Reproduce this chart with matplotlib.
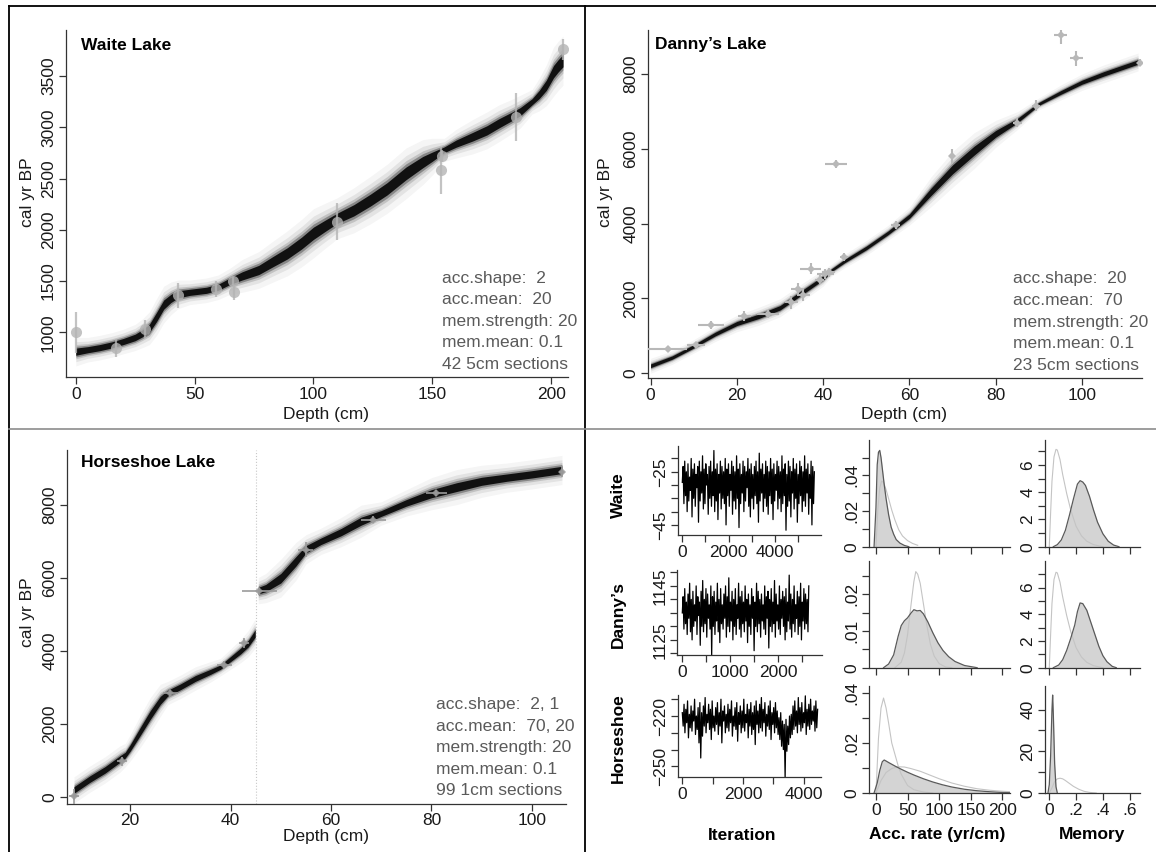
import numpy as np
import matplotlib
matplotlib.use("Agg")
import matplotlib.pyplot as plt
from matplotlib.lines import Line2D

plt.rcParams['font.family'] = ['Liberation Sans', 'DejaVu Sans']

W, H = 1156, 852

# ---------------- age-depth models ----------------
waite_depth = [0, 5, 10, 15, 20, 25, 28, 31, 34, 37, 40, 43, 48, 55, 60, 65, 70, 77, 83, 89, 95, 100,
               105, 110, 117, 124, 131, 139, 146, 150, 155, 160, 167, 173, 178, 183, 187, 192, 195, 198,
               201, 203, 205]
waite_age = [811, 830, 850, 876, 910, 950, 990, 1040, 1150, 1270, 1330, 1370, 1390, 1410, 1440, 1500,
             1550, 1608, 1690, 1770, 1870, 1966, 2040, 2112, 2190, 2290, 2400, 2551, 2660, 2713, 2780,
             2840, 2908, 2970, 3038, 3100, 3152, 3249, 3320, 3410, 3542, 3600, 3650]
waite_spread = [35, 30, 30, 30, 30, 32, 35, 40, 45, 45, 40, 35, 30, 30, 30, 32, 40, 45, 50, 55, 58, 60,
                55, 50, 55, 58, 60, 62, 55, 45, 28, 35, 42, 45, 45, 42, 40, 30, 40, 50, 60, 60, 60]
waite_dates_depth = [0, 17.1, 29.1, 43, 58.9, 66.5, 66, 109.8, 153.8, 154, 185.2, 204.9]
waite_dates_age = [1000, 845, 1030, 1360, 1420, 1390, 1500, 2080, 2580, 2720, 3100, 3760]
waite_dates_err = [200, 90, 90, 120, 80, 70, 40, 180, 230, 60, 230, 100]

danny_depth = [0, 5, 10, 15, 20, 25, 30, 35, 40, 42, 45, 50, 55, 60, 65, 70, 75, 80, 85, 90, 95, 100,
               105, 110, 113]
danny_age = [200, 420, 720, 1050, 1330, 1520, 1750, 2150, 2550, 2760, 3000, 3350, 3750, 4200, 4850,
             5450, 5950, 6400, 6750, 7200, 7500, 7780, 8000, 8200, 8320]
danny_spread = [50, 45, 45, 50, 55, 60, 60, 60, 55, 40, 45, 50, 50, 60, 100, 120, 120, 90, 60, 40, 50,
                55, 60, 60, 60]
danny_dates_depth = [4, 10.5, 14, 21.7, 27.2, 32.6, 34.1, 35.4, 37.1, 39.2, 40.5, 41.3, 43, 44.8, 56.8,
                     69.8, 85, 89.3, 95.1, 98.7, 113.5]
danny_dates_age = [660, 760, 1290, 1530, 1580, 1900, 2250, 2090, 2800, 2500, 2650, 2700, 5600, 3100,
                   3960, 5800, 6700, 7150, 9050, 8420, 8300]
danny_dates_aerr = [80, 80, 100, 130, 110, 170, 170, 150, 150, 120, 130, 120, 110, 110, 110, 200, 120,
                    140, 260, 200, 90]
danny_dates_derr = [4.5, 2.0, 3.0, 1.5, 2.5, 1.5, 1.5, 1.5, 2.5, 1.0, 2.0, 1.5, 2.5, 1.0, 1.0, 0.5, 1.0,
                    1.0, 1.5, 1.5, 0.5]

horse_depth_a = [8.8, 12, 15, 18, 19, 20, 22, 24, 26, 27.5, 30, 33, 36, 38, 40, 42, 43.5, 44.9]
horse_age_a = [200, 500, 750, 1050, 1150, 1350, 1800, 2250, 2650, 2850, 3020, 3250, 3430, 3560, 3780,
               4000, 4200, 4480]
horse_spread_a = [90, 90, 90, 90, 80, 90, 110, 120, 110, 80, 80, 80, 70, 60, 70, 80, 90, 100]
horse_depth_b = [45.5, 47, 50, 53, 55, 58, 62, 66, 70, 75, 80, 85, 90, 95, 100, 106]
horse_age_b = [5650, 5720, 5990, 6450, 6780, 7000, 7250, 7550, 7760, 8050, 8300, 8480, 8640, 8740, 8830,
               8950]
horse_spread_b = [90, 100, 130, 130, 100, 90, 100, 110, 80, 90, 110, 120, 110, 100, 100, 100]
horse_dates_depth = [8.8, 18.4, 28, 38.7, 42.6, 45.7, 55, 68.4, 81, 106]
horse_dates_age = [30, 980, 2840, 3630, 4220, 5630, 6770, 7590, 8320, 8900]
horse_dates_aerr = [200, 120, 100, 90, 130, 100, 200, 100, 80, 150]
horse_dates_derr = [1.0, 1.0, 1.5, 1.5, 1.0, 3.5, 1.5, 2.5, 2.0, 0.5]

# ---------------- MCMC traces ----------------
waite_step = 35
waite_trace = [-29, -23, -37, -21, -34, -25, -40, -22, -36, -27,
               -32, -20, -42, -24, -35, -22, -38, -26, -31, -23,
               -44, -21, -36, -25, -33, -19, -39, -24, -37, -22,
               -30, -26, -41, -23, -35, -21, -38, -25, -34, -17,
               -40, -24, -36, -22, -43, -26, -33, -21, -39, -23,
               -35, -25, -37, -20, -45, -24, -34, -22, -38, -26,
               -32, -21, -41, -23, -36, -25, -39, -19, -35, -24,
               -46, -22, -37, -26, -33, -21, -40, -23, -36, -25,
               -31, -20, -38, -24, -42, -22, -35, -26, -39, -23,
               -34, -21, -37, -25, -44, -18, -36, -24, -33, -22,
               -40, -26, -35, -21, -38, -23, -41, -25, -34, -20,
               -37, -24, -43, -22, -36, -26, -32, -21, -39, -23,
               -35, -25, -40, -19, -37, -24, -34, -22, -47, -26,
               -38, -21, -36, -23, -42, -25, -33, -20, -39, -24,
               -35, -22, -44, -26, -37, -21, -34, -23, -40, -25,
               -36, -19, -38, -24, -33, -22, -41, -26, -35, -21,
               -45, -23, -37, -25]
danny_step = 17
danny_trace = [1135, 1141, 1129, 1144, 1131, 1139, 1127, 1142, 1133, 1146,
               1128, 1140, 1125, 1143, 1130, 1138, 1132, 1145, 1127, 1141,
               1134, 1139, 1123, 1143, 1130, 1147, 1128, 1140, 1131, 1144,
               1126, 1142, 1133, 1138, 1129, 1145, 1119, 1141, 1130, 1143,
               1127, 1139, 1132, 1146, 1128, 1140, 1124, 1144, 1131, 1138,
               1129, 1142, 1133, 1145, 1126, 1141, 1130, 1148, 1128, 1139,
               1132, 1143, 1125, 1140, 1130, 1144, 1127, 1138, 1133, 1146,
               1129, 1141, 1126, 1143, 1131, 1139, 1128, 1145, 1132, 1140,
               1124, 1142, 1130, 1138, 1127, 1144, 1133, 1141, 1121, 1139,
               1130, 1146, 1128, 1143, 1131, 1140, 1126, 1142, 1132, 1138,
               1129, 1145, 1127, 1141, 1133, 1143, 1122, 1140, 1130, 1144,
               1128, 1139, 1131, 1147, 1126, 1142, 1132, 1138, 1129, 1145,
               1127, 1140, 1133, 1143, 1130, 1141, 1125, 1144, 1128, 1139,
               1132, 1149, 1129, 1142, 1126, 1140, 1131, 1145, 1128, 1138,
               1133, 1143, 1127, 1141, 1130, 1146, 1125, 1139, 1132, 1144,
               1129, 1142, 1131, 1140, 1128, 1145]
horse_step = 29
horse_trace = [-218, -226, -213, -230, -216, -224, -211, -233, -219, -227,
               -214, -229, -217, -223, -210, -231, -220, -228, -215, -236,
               -212, -245, -218, -232, -214, -226, -209, -230, -219, -224,
               -213, -228, -216, -234, -211, -227, -220, -229, -215, -225,
               -212, -231, -218, -226, -210, -236, -217, -223, -214, -230,
               -219, -227, -213, -229, -216, -224, -211, -232, -220, -226,
               -215, -228, -212, -235, -218, -225, -214, -230, -217, -227,
               -210, -229, -219, -224, -213, -233, -216, -226, -212, -231,
               -218, -228, -214, -237, -211, -225, -217, -230, -213, -227,
               -209, -229, -216, -224, -212, -232, -219, -226, -214, -228,
               -211, -234, -218, -225, -215, -230, -212, -227, -217, -231,
               -221, -234, -218, -238, -223, -240, -225, -257, -222, -241,
               -226, -237, -220, -233, -219, -231, -214, -228, -211, -226,
               -217, -230, -209, -225, -215, -229, -212, -227, -218, -224,
               -208, -231, -216, -226, -213, -228, -210, -225, -217, -223,
               -214, -229, -211, -227, -216]

# ---------------- densities ----------------
waite_acc_x = [-3, 0, 2, 4, 6, 8, 10, 13, 16, 20, 24, 28, 32, 38, 45, 52]
waite_acc_post = [0, 0.022, 0.046, 0.053, 0.054, 0.050, 0.044, 0.035, 0.027, 0.018, 0.011, 0.007,
                  0.004, 0.002, 0.0007, 0]
waite_acc_prior_x = [0, 3, 6, 9, 12, 16, 20, 25, 30, 36, 42, 50, 58, 66]
waite_acc_prior = [0, 0.021, 0.033, 0.0368, 0.036, 0.032, 0.027, 0.0205, 0.015, 0.0095, 0.006, 0.0034,
                   0.0018, 0.0008]

danny_acc_x = [12, 20, 28, 35, 40, 45, 50, 55, 60, 65, 70, 75, 82, 90, 98, 106, 115, 125, 140, 160]
danny_acc_post = [0, 0.001, 0.0035, 0.0085, 0.0115, 0.0128, 0.0136, 0.0148, 0.0158, 0.0155, 0.0156,
                  0.0147, 0.0125, 0.0095, 0.0068, 0.0047, 0.003, 0.0017, 0.0006, 0]
danny_acc_prior_x = [30, 40, 45, 50, 55, 60, 63, 66, 70, 75, 80, 86, 92, 100, 110, 120]
danny_acc_prior = [0, 0.0015, 0.004, 0.009, 0.0165, 0.0235, 0.0262, 0.0255, 0.023, 0.0175, 0.012,
                   0.0065, 0.0032, 0.0011, 0.0002, 0]

horse_acc_x = [-3, 2, 6, 10, 13, 16, 20, 25, 30, 40, 50, 60, 75, 90, 105, 120, 140, 160, 180, 200, 215]
horse_acc_post = [0, 0.004, 0.009, 0.0125, 0.0132, 0.0128, 0.0122, 0.0115, 0.0108, 0.0095, 0.0083,
                  0.0072, 0.0057, 0.0044, 0.0033, 0.0024, 0.0015, 0.0009, 0.0005, 0.0002, 0.0001]
horse_acc_prior1_x = [0, 4, 8, 12, 16, 20, 25, 30, 35, 40, 50, 60, 75, 90]
horse_acc_prior1 = [0, 0.022, 0.034, 0.038, 0.034, 0.028, 0.020, 0.0155, 0.011, 0.0075, 0.003, 0.0013,
                    0.0004, 0]
horse_acc_prior2_x = [0, 8, 16, 25, 35, 45, 55, 70, 85, 100, 120, 140, 160, 180, 200, 215]
horse_acc_prior2 = [0, 0.005, 0.0082, 0.0098, 0.0105, 0.0104, 0.0098, 0.0087, 0.0072, 0.0057, 0.004,
                    0.0027, 0.0017, 0.0011, 0.0007, 0.0005]

mem_prior_x = [0, 0.01, 0.02, 0.035, 0.05, 0.06, 0.08, 0.1, 0.13, 0.16, 0.2, 0.24, 0.28, 0.33, 0.4]
mem_prior = [0, 2.5, 4.8, 6.6, 7.15, 7.1, 6.4, 5.3, 3.9, 2.7, 1.5, 0.8, 0.4, 0.15, 0]
waite_mem_x = [0.03, 0.06, 0.09, 0.12, 0.15, 0.18, 0.21, 0.23, 0.25, 0.27, 0.3, 0.33, 0.36, 0.4, 0.44,
               0.48, 0.52]
waite_mem_post = [0, 0.15, 0.5, 1.2, 2.3, 3.5, 4.6, 4.85, 4.75, 4.5, 3.7, 2.7, 1.8, 0.95, 0.4, 0.12, 0]
danny_mem_x = [0.03, 0.07, 0.1, 0.13, 0.16, 0.19, 0.21, 0.23, 0.25, 0.28, 0.31, 0.34, 0.37, 0.4, 0.43,
               0.47, 0.5]
danny_mem_post = [0, 0.2, 0.6, 1.3, 2.2, 3.2, 4.2, 4.85, 4.8, 4.3, 3.4, 2.5, 1.6, 0.9, 0.45, 0.1, 0]
horse_mem_x = [-0.01, 0.0, 0.01, 0.02, 0.025, 0.03, 0.04, 0.05, 0.06]
horse_mem_post = [0, 4, 18, 40, 47, 38, 14, 3, 0]
horse_mem_prior_x = [0.0, 0.02, 0.04, 0.06, 0.08, 0.1, 0.12, 0.15, 0.18, 0.22, 0.26, 0.3, 0.35]
horse_mem_prior = [0, 2.5, 5.5, 6.8, 7.1, 6.8, 6.0, 4.6, 3.2, 1.8, 0.8, 0.3, 0]

params_waite = ["acc.shape:  2", "acc.mean:  20", "mem.strength: 20", "mem.mean: 0.1", "42 5cm sections"]
params_danny = ["acc.shape:  20", "acc.mean:  70", "mem.strength: 20", "mem.mean: 0.1", "23 5cm sections"]
params_horse = ["acc.shape:  2, 1", "acc.mean:  70, 20", "mem.strength: 20", "mem.mean: 0.1",
                "99 1cm sections"]

FS = 12.5
AX_C = '#333333'
TXT = '#1a1a1a'

fig = plt.figure(figsize=(W / 100, H / 100), dpi=100)
fig.patch.set_facecolor('white')


def add_ax(l, t, r, b):
    return fig.add_axes([l / W, 1 - b / H, (r - l) / W, (b - t) / H])


def style(ax):
    ax.set_facecolor('none')
    for s in ['top', 'right']:
        ax.spines[s].set_visible(False)
    for s in ['left', 'bottom']:
        ax.spines[s].set_color(AX_C)
        ax.spines[s].set_linewidth(0.9)
    ax.tick_params(direction='out', length=5, width=0.9, color=AX_C, labelsize=FS,
                   labelcolor=TXT, pad=2)


def rot_y(ax):
    for lab in ax.get_yticklabels():
        lab.set_rotation(90)
        lab.set_va('center')


def ftext(x, y, s, **kw):
    fig.text(x / W, 1 - y / H, s, **kw)


def draw_model(ax, depth, age, spread):
    d = np.asarray(depth, float)
    a = np.asarray(age, float)
    s = np.asarray(spread, float)
    for k, al in [(4.0, 0.04), (2.8, 0.07), (2.0, 0.14), (1.5, 0.3)]:
        ax.fill_between(d, a - k * s, a + k * s, color='black', alpha=al, lw=0)
    ax.fill_between(d, a - s, a + s, color='#111111', lw=0)


# ---------- Waite ----------
ax1 = add_ax(65.8, 30, 568, 377)
style(ax1)
draw_model(ax1, waite_depth, waite_age, waite_spread)
ax1.errorbar(waite_dates_depth, waite_dates_age, yerr=waite_dates_err, fmt='o', ms=8,
             color='#b4b4b4', ecolor='#b4b4b4', elinewidth=1.6, mew=0, alpha=0.8, zorder=3)
ax1.set_xlim(-4.2, 207.1)
ax1.set_ylim(564, 3949)
ax1.set_xticks([0, 50, 100, 150, 200])
ax1.set_yticks([1000, 1500, 2000, 2500, 3000, 3500])
rot_y(ax1)
ftext(80.7, 45, "Waite Lake", fontsize=FS, fontweight='bold', va='center', color='black')
for i, line in enumerate(params_waite):
    ftext(442, 278 + i * 21.6, line, fontsize=FS, va='center', color='#5a5a5a')
ftext(27.7, 192, "cal yr BP", fontsize=FS, rotation=90, ha='center', va='center', color=TXT)
ftext(325.6, 414, "Depth (cm)", fontsize=FS, ha='center', va='center', color=TXT)

# ---------- Danny ----------
ax2 = add_ax(648, 30, 1142, 378)
style(ax2)
draw_model(ax2, danny_depth, danny_age, danny_spread)
ax2.errorbar(danny_dates_depth, danny_dates_age, yerr=danny_dates_aerr, xerr=danny_dates_derr,
             fmt='D', ms=4, color='#b8b8b8', ecolor='#b8b8b8', elinewidth=1.5, mew=0, zorder=3)
ax2.set_xlim(-0.6, 113.9)
ax2.set_ylim(-126, 9174)
ax2.set_xticks([0, 20, 40, 60, 80, 100])
ax2.set_yticks([0, 2000, 4000, 6000, 8000])
rot_y(ax2)
ftext(655.4, 45, "Danny\u2019s Lake", fontsize=FS, fontweight='bold', va='center', color='black')
for i, line in enumerate(params_danny):
    ftext(1013, 279 + i * 21.6, line, fontsize=FS, va='center', color='#5a5a5a')
ftext(605.6, 192, "cal yr BP", fontsize=FS, rotation=90, ha='center', va='center', color=TXT)
ftext(904, 414, "Depth (cm)", fontsize=FS, ha='center', va='center', color=TXT)

# ---------- Horseshoe ----------
ax3 = add_ax(67.3, 449.7, 566, 803.7)
style(ax3)
draw_model(ax3, horse_depth_a, horse_age_a, horse_spread_a)
draw_model(ax3, horse_depth_b, horse_age_b, horse_spread_b)
ax3.axvline(45, color='#c8c8c8', ls=':', lw=0.8)
ax3.errorbar(horse_dates_depth, horse_dates_age, yerr=horse_dates_aerr, xerr=horse_dates_derr,
             fmt='D', ms=4, color='#9a9a9a', ecolor='#9a9a9a', elinewidth=1.4, mew=0, alpha=0.85,
             zorder=3)
ax3.set_xlim(7.47, 106.8)
ax3.set_ylim(-175, 9504)
ax3.set_xticks([20, 40, 60, 80, 100])
ax3.set_yticks([0, 2000, 4000, 6000, 8000])
rot_y(ax3)
ftext(80.7, 462, "Horseshoe Lake", fontsize=FS, fontweight='bold', va='center', color='black')
for i, line in enumerate(params_horse):
    ftext(436.5, 704.7 + i * 21.5, line, fontsize=FS, va='center', color='#5a5a5a')
ftext(27.7, 612, "cal yr BP", fontsize=FS, rotation=90, ha='center', va='center', color=TXT)
ftext(325.6, 837, "Depth (cm)", fontsize=FS, ha='center', va='center', color=TXT)

# ---------- traces ----------
traces = [
    (waite_trace, waite_step, (677.5, 446, 821.3, 535), (-207, 6005), (-48.8, -15.3),
     [0, 1000, 2000, 3000, 4000, 5000], ['0', '', '2000', '', '4000', ''],
     [-45, -40, -35, -30, -25, -20], ['\u221245', '', '', '', '\u221225', '']),
    (danny_trace, danny_step, (677.3, 570, 821.7, 655), (-104, 2904), (1119.4, 1150.9),
     [0, 500, 1000, 1500, 2000, 2500], ['0', '', '1000', '', '2000', ''],
     [1120, 1125, 1130, 1135, 1140, 1145, 1150], ['', '1125', '', '', '', '1145', '']),
    (horse_trace, horse_step, (677.5, 694.7, 821.3, 777.3), (-158, 4587), (-256.5, -207.3),
     [0, 1000, 2000, 3000, 4000], ['0', '', '2000', '', '4000'],
     [-250, -240, -230, -220, -210], ['\u2212250', '', '', '\u2212220', '']),
]
for vals, step, box, xl, yl, xt, xtl, yt, ytl in traces:
    ax = add_ax(*box)
    style(ax)
    it = np.arange(len(vals)) * step
    ax.plot(it, vals, color='black', lw=0.9)
    ax.set_xlim(*xl)
    ax.set_ylim(*yl)
    ax.set_xticks(xt)
    ax.set_xticklabels(xtl)
    ax.set_yticks(yt)
    ax.set_yticklabels(ytl)
    rot_y(ax)

# ---------- densities ----------
rows = [(439.7, 546.7), (561.3, 667.7), (686.3, 793)]
acc_sets = [
    ([(waite_acc_prior_x, waite_acc_prior)], (waite_acc_x, waite_acc_post), 0.060,
     [0, 0.01, 0.02, 0.03, 0.04, 0.05], ['0', '', '.02', '', '.04', '']),
    ([(danny_acc_prior_x, danny_acc_prior)], (danny_acc_x, danny_acc_post), 0.029,
     [0, 0.005, 0.01, 0.015, 0.02, 0.025], ['0', '', '.01', '', '.02', '']),
    ([(horse_acc_prior1_x, horse_acc_prior1), (horse_acc_prior2_x, horse_acc_prior2)],
     (horse_acc_x, horse_acc_post), 0.0427,
     [0, 0.01, 0.02, 0.03, 0.04], ['0', '', '.02', '', '.04']),
]
mem_sets = [
    ([(mem_prior_x, mem_prior)], (waite_mem_x, waite_mem_post), 7.86,
     [0, 1, 2, 3, 4, 5, 6, 7], ['0', '', '2', '', '4', '', '6', '']),
    ([(mem_prior_x, mem_prior)], (danny_mem_x, danny_mem_post), 7.97,
     [0, 1, 2, 3, 4, 5, 6, 7], ['0', '', '2', '', '4', '', '6', '']),
    ([(horse_mem_prior_x, horse_mem_prior)], (horse_mem_x, horse_mem_post), 51.2,
     [0, 10, 20, 30, 40], ['0', '', '20', '', '40']),
]

for r, (top, bot) in enumerate(rows):
    for sets, (l, rr), xl, xt, xtl in [
        (acc_sets[r], (869, 1010), (-11, 212), [0, 50, 100, 150, 200], ['0', '50', '100', '150', '200']),
        (mem_sets[r], (1045, 1140), (-0.032, 0.677), [0, 0.2, 0.4, 0.6], ['0', '.2', '.4', '.6']),
    ]:
        priors, post, ytop, yt, ytl = sets
        ax = add_ax(l, top, rr, bot)
        style(ax)
        ax.fill_between(post[0], post[1], color='#d4d4d4', lw=0, zorder=1)
        ax.plot(post[0], post[1], color='#5a5a5a', lw=0.9, zorder=3)
        for px, py in priors:
            ax.plot(px, py, color='#c4c4c4', lw=0.8, zorder=2)
        ax.set_xlim(*xl)
        ax.set_ylim(0, ytop)
        ax.set_xticks(xt)
        ax.set_xticklabels(xtl if r == 2 else [''] * len(xt))
        ax.set_yticks(yt)
        ax.set_yticklabels(ytl)
        rot_y(ax)

# row & column labels
for lab, y in [("Waite", 494.7), ("Danny\u2019s", 614.7), ("Horseshoe", 738)]:
    ftext(618.5, y, lab, fontsize=FS, fontweight='bold', rotation=90, ha='center', va='center',
          color='black')
for lab, x in [("Iteration", 742.5), ("Acc. rate (yr/cm)", 937.5), ("Memory", 1092.5)]:
    ftext(x, 835, lab, fontsize=FS, fontweight='bold', ha='center', va='center', color='black')


# panel borders
def fline(x1, y1, x2, y2, color='black', lw=1.3):
    fig.add_artist(Line2D([x1 / W, x2 / W], [1 - y1 / H, 1 - y2 / H], transform=fig.transFigure,
                          color=color, lw=lw))


fline(9, 6, W, 6)
fline(9, 6, 9, H)
fline(585, 6, 585, H)
fline(9, 429, W, 429, color='#8c8c8c', lw=1.2)

fig.savefig("out.png", dpi=100, facecolor='white')
